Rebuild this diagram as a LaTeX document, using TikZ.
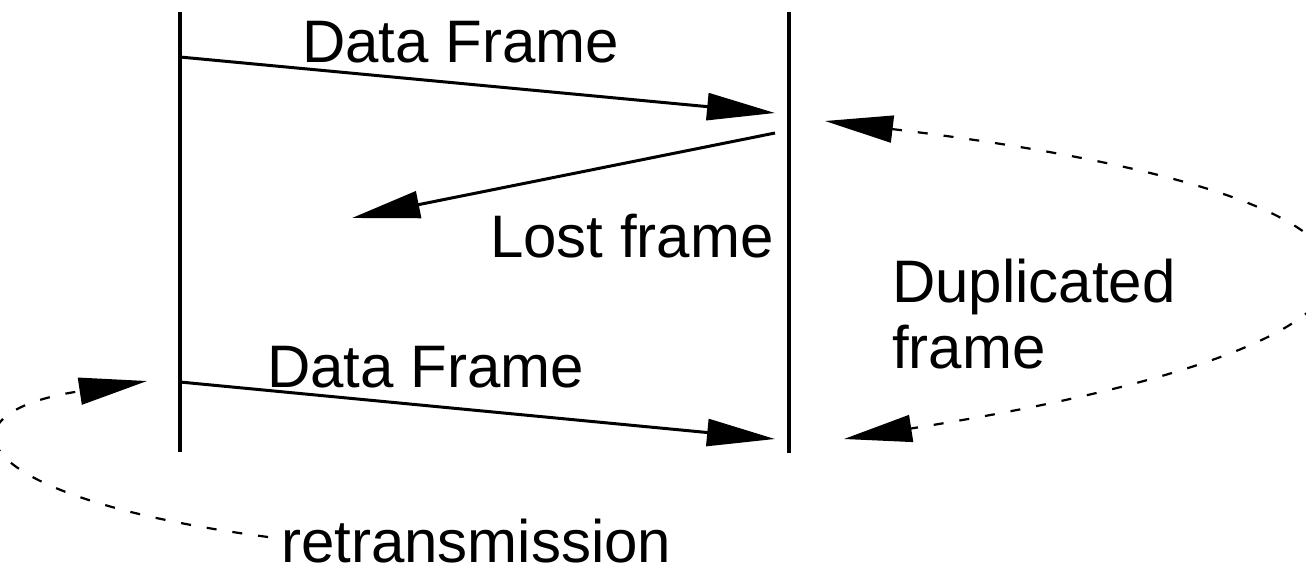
\documentclass[tikz,border=0pt]{standalone}
\usepackage{fontspec}
\setmainfont{Liberation Sans}
\usetikzlibrary{arrows.meta}
\begin{document}
\begin{tikzpicture}[x=1pt,y=-1pt,
  lifeline/.style={line width=3.4pt},
  head/.tip={Triangle[length=68pt,width=27pt]},
  msg/.style={line width=3pt,-{head}},
  loopback/.style={line width=2.2pt,dash pattern=on 10pt off 16pt},
  lbl/.style={font=\fontsize{60}{66}\selectfont,inner sep=0pt,anchor=base west,align=left,text depth=0pt}]
\path[use as bounding box,clip] (0,0) rectangle (1306,566);

% sender and receiver time lines
\coordinate (Atop) at (180,12);
\coordinate (Abot) at (180,452);
\coordinate (Btop) at (789,12);
\coordinate (Bbot) at (789,453);
\draw[lifeline] (Atop) -- (Abot);
\draw[lifeline] (Btop) -- (Bbot);

% message end points
\coordinate (s1) at (180,57);
\coordinate (e1) at (775,113);
\coordinate (s2) at (775,133);
\coordinate (e2) at (352,218);
\coordinate (s3) at (180,382);
\coordinate (e3) at (775,439);

\draw[msg] (s1) -- (e1);
\draw[msg] (s2) -- (e2);
\draw[msg] (s3) -- (e3);

% duplicate and retransmission loops
\coordinate (d1) at (825,121);
\coordinate (d2) at (844,439);
\coordinate (r1) at (268,537);
\coordinate (r2) at (147,381);

\draw[loopback,{head}-{head}] (d1) .. controls (1475,199) and (1475,340) .. (d2);
\draw[loopback,-{head}] (r1) .. controls (-30,498) and (-71,414) .. (r2);

% labels (a two-line node sits on the baseline of its last line)
\node[lbl] (lData1) at (302,62) {Data Frame};
\node[lbl] (lLost) at (490,257) {Lost frame};
\node[lbl] (lData2) at (267,387) {Data Frame};
\node[lbl] (lDup) at (892,368) {Duplicated\\frame};
\node[lbl] (lRetx) at (281,562) {retransmission};
\end{tikzpicture}
\end{document}
